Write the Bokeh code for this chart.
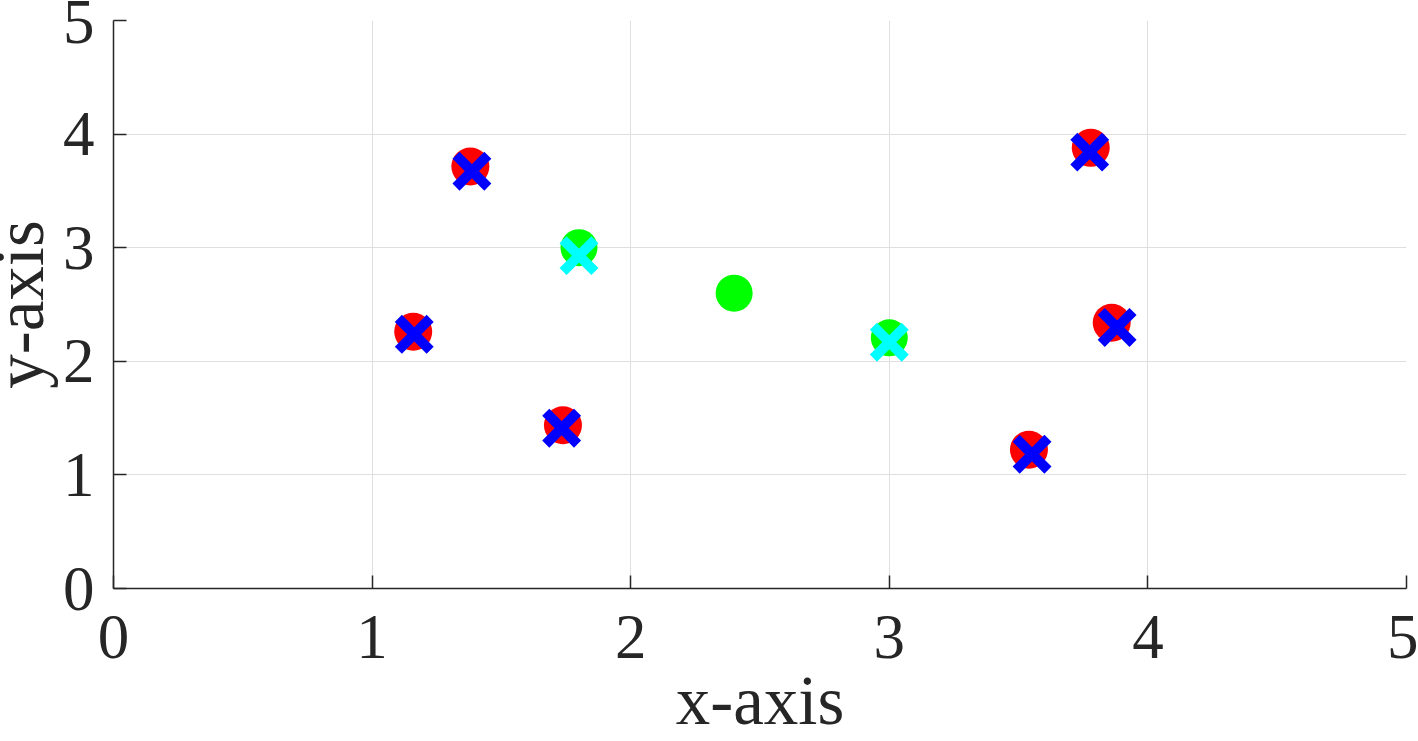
from bokeh.plotting import figure
from bokeh.models import Range1d, FixedTicker
from bokeh.embed import file_html
from bokeh.resources import INLINE

# data
red_x = [1.159, 1.380, 1.738, 3.540, 3.779, 3.860]
red_y = [2.260, 3.715, 1.437, 1.221, 3.879, 2.339]
blue_x = [1.163, 1.386, 1.733, 3.552, 3.775, 3.881]
blue_y = [2.238, 3.673, 1.411, 1.182, 3.841, 2.298]
green_x = [1.80, 2.40, 3.00]
green_y = [3.00, 2.60, 2.207]
cyan_x = [1.80, 3.00]
cyan_y = [2.93, 2.168]
ticks = [0, 1, 2, 3, 4, 5]
tick_labels = ["0", "1", "2", "3", "4", "5"]
x_title = "x-axis"
y_title = "y-axis"

FONT = "Liberation Serif"
AX = "#262626"
SHIFT = 22

p = figure(width=1418 + SHIFT, height=741, output_backend="svg", toolbar_location=None,
           x_range=Range1d(0, 5), y_range=Range1d(0, 5),
           min_border_left=113 + SHIFT, min_border_right=12, min_border_top=20, min_border_bottom=153,
           styles={"margin-left": f"-{SHIFT}px"})
p.outline_line_color = None
p.background_fill_color = "white"
p.border_fill_color = "white"

for ax in (p.xaxis[0], p.yaxis[0]):
    ax.ticker = FixedTicker(ticks=ticks)
    ax.major_label_overrides = {t: l for t, l in zip(ticks, tick_labels)}
    ax.major_tick_in = 13
    ax.major_tick_out = 0
    ax.minor_tick_line_color = None
    ax.axis_line_color = AX
    ax.axis_line_width = 1.5
    ax.major_tick_line_color = AX
    ax.major_tick_line_width = 1.5
    ax.major_label_text_font = FONT
    ax.major_label_text_font_size = "63px"
    ax.major_label_text_color = AX
    ax.axis_label_text_font = FONT
    ax.axis_label_text_font_size = "69px"
    ax.axis_label_text_font_style = "normal"
    ax.axis_label_text_color = AX

p.xaxis.axis_label = x_title
p.yaxis.axis_label = y_title
p.xaxis.major_label_standoff = 27
p.yaxis.major_label_standoff = 19
p.xaxis.axis_label_standoff = 2
p.yaxis.axis_label_standoff = 2

for g in (p.xgrid[0], p.ygrid[0]):
    g.ticker = FixedTicker(ticks=ticks)
    g.grid_line_color = "#dfdfdf"
    g.grid_line_width = 1

p.scatter(red_x, red_y, marker="circle", size=38, fill_color="#ff0000", line_color=None)
p.scatter(green_x, green_y, marker="circle", size=37, fill_color="#00ff00", line_color=None)
p.scatter(blue_x, blue_y, marker="x", size=45, line_color="#0000ff", line_width=10)
p.scatter(cyan_x, cyan_y, marker="x", size=45, line_color="#00ffff", line_width=10)

open("out.html", "w").write(file_html(p, INLINE))
